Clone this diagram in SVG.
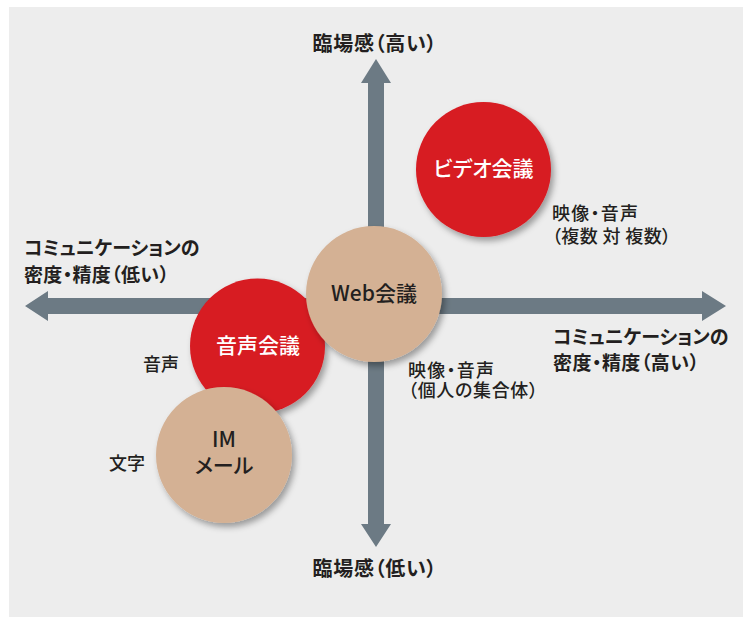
<svg xmlns="http://www.w3.org/2000/svg" width="748" height="617" viewBox="0 0 748 617">
  <defs>
    <filter id="shadow" x="-20%" y="-20%" width="150%" height="150%">
      <feDropShadow dx="3" dy="4" stdDeviation="3" flood-color="#000" flood-opacity="0.35"/>
    </filter>
    <style>
      text { font-family: "Noto Sans CJK JP", "Noto Sans", sans-serif; fill: #231f20; font-feature-settings: "palt" 1; }
      .axis { font-size: 19px; font-weight: bold; }
      .axis-v { font-size: 20px; font-weight: bold; }
      .note { font-size: 18px; font-weight: 500; }
      .node-red circle { fill: #d71a21; filter: url(#shadow); }
      .node-tan circle { fill: #d4b194; filter: url(#shadow); }
      .node-red text { fill: #ffffff; font-size: 21px; font-weight: 500; text-anchor: middle; }
      .node-tan text { fill: #231f20; font-size: 21px; font-weight: 500; text-anchor: middle; }
      .arrow { fill: #6c7a84; }
    </style>
  </defs>

  <rect x="0" y="0" width="748" height="617" fill="#ffffff"/>
  <rect x="9" y="7" width="734" height="610" fill="#ededed"/>

  <g id="connectors">
    <path class="arrow" d="M25,306 L48,291 L48,298 L702,298 L702,291 L726,306 L702,321 L702,314 L48,314 L48,321 Z"/>
    <path class="arrow" d="M376,59 L391,83 L384,83 L384,524 L391,524 L376,547 L361,524 L368,524 L368,83 L361,83 Z"/>
  </g>

  <g id="axis-labels">
    <text class="axis-v" x="374.5" y="50.5" text-anchor="middle" textLength="124" lengthAdjust="spacing">臨場感（高い）</text>
    <text class="axis-v" x="374.5" y="575.5" text-anchor="middle" textLength="124" lengthAdjust="spacing">臨場感（低い）</text>
    <text class="axis" x="24" y="255">コミュニケーションの</text>
    <text class="axis" x="24" y="281.5" textLength="145" lengthAdjust="spacing">密度・精度（低い）</text>
    <text class="axis" x="553" y="343.5">コミュニケーションの</text>
    <text class="axis" x="553" y="369.5" textLength="146" lengthAdjust="spacing">密度・精度（高い）</text>
  </g>

  <g id="node-video" class="node-red">
    <circle cx="483.5" cy="169.5" r="67.5"/>
    <text x="483.5" y="176">ビデオ会議</text>
  </g>

  <g id="node-audio" class="node-red">
    <circle cx="257.5" cy="346" r="67.5"/>
    <text x="258" y="352.5">音声会議</text>
  </g>

  <g id="node-web" class="node-tan">
    <circle cx="374" cy="294" r="68"/>
    <text x="374" y="300.5">Web会議</text>
  </g>

  <g id="node-im" class="node-tan">
    <circle cx="224" cy="455" r="68"/>
    <text x="224" y="447">IM</text>
    <text x="224" y="472.5">メール</text>
  </g>

  <g id="notes">
    <text class="note" x="552" y="219.5" textLength="86" lengthAdjust="spacing">映像・音声</text>
    <text class="note" x="552" y="243" textLength="119" lengthAdjust="spacing">（複数 対 複数）</text>
    <text class="note" x="408" y="376.5" textLength="86" lengthAdjust="spacing">映像・音声</text>
    <text class="note" x="408" y="396.5" textLength="130" lengthAdjust="spacing">（個人の集合体）</text>
    <text class="note" x="143" y="371">音声</text>
    <text class="note" x="109" y="469.5">文字</text>
  </g>
</svg>
